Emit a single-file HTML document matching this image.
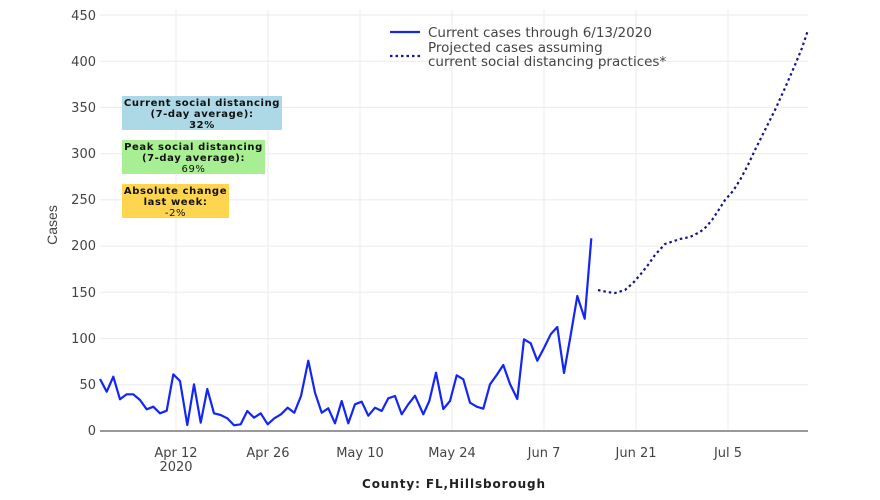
<!DOCTYPE html>
<html><head><meta charset="utf-8"><style>
body{margin:0;background:#fff;}
svg text{font-family:"DejaVu Sans",sans-serif;}
</style></head><body>
<svg width="880" height="495" xmlns="http://www.w3.org/2000/svg">
<g stroke="#ebebeb" stroke-width="1">
<line x1="100" x2="808" y1="384.8" y2="384.8"/>
<line x1="100" x2="808" y1="338.6" y2="338.6"/>
<line x1="100" x2="808" y1="292.3" y2="292.3"/>
<line x1="100" x2="808" y1="246.1" y2="246.1"/>
<line x1="100" x2="808" y1="199.9" y2="199.9"/>
<line x1="100" x2="808" y1="153.7" y2="153.7"/>
<line x1="100" x2="808" y1="107.4" y2="107.4"/>
<line x1="100" x2="808" y1="61.2" y2="61.2"/>
<line x1="100" x2="808" y1="15" y2="15"/>
<line x1="176" x2="176" y1="10" y2="431"/>
<line x1="268" x2="268" y1="10" y2="431"/>
<line x1="360" x2="360" y1="10" y2="431"/>
<line x1="452" x2="452" y1="10" y2="431"/>
<line x1="544" x2="544" y1="10" y2="431"/>
<line x1="636" x2="636" y1="10" y2="431"/>
<line x1="728" x2="728" y1="10" y2="431"/>
</g>
<line x1="100" x2="808" y1="431" y2="431" stroke="#999" stroke-width="2"/>
<g font-size="13" fill="#444" text-anchor="end">
<text x="96" y="435">0</text><text x="96" y="389">50</text><text x="96" y="343">100</text>
<text x="96" y="297">150</text><text x="96" y="250">200</text><text x="96" y="204">250</text>
<text x="96" y="158">300</text><text x="96" y="112">350</text><text x="96" y="66">400</text><text x="96" y="20">450</text>
</g>
<g font-size="13" fill="#444" text-anchor="middle">
<text x="176" y="457">Apr 12</text><text x="176" y="471">2020</text>
<text x="268" y="457">Apr 26</text><text x="360" y="457">May 10</text><text x="452" y="457">May 24</text>
<text x="544" y="457">Jun 7</text><text x="636" y="457">Jun 21</text><text x="728" y="457">Jul 5</text>
</g>
<text x="57" y="225" font-size="14" fill="#444" text-anchor="middle" transform="rotate(-90 57 225)" style="font-family:'Liberation Sans',sans-serif">Cases</text>
<text x="454" y="488" font-size="12" font-weight="bold" fill="#222" text-anchor="middle" letter-spacing="0.9">County: FL,Hillsborough</text>
<polyline fill="none" stroke="#1426f5" stroke-width="2.2" stroke-linejoin="round" points="100,379 106.7,391.7 113.3,376.7 120,399.3 126.7,394.3 133.3,394.3 140,400 146.7,409.3 153.3,406.7 160,413.3 166.7,410.7 173.3,374.3 180,381 187.3,425 194,384.3 200.7,422.7 207.3,389 214,413.3 220.7,415 227.3,418.3 234,425.3 240.7,424.3 247.3,411 254,417.7 260.7,413.3 267.7,424.3 274.3,418.3 281,414.3 287.7,407.7 294.3,412.7 301,396 308.3,360.7 315,392.7 321.7,412.7 328.3,408.3 335,423.3 341.7,401 348.3,423.3 355,404.3 361.7,401.7 368.3,415.7 375,407.7 381.7,411 388.3,398.3 395,396 401.7,414.3 408.3,404.3 415,395.7 423.3,414.3 429.3,401 436,372.7 443.3,409 450,401 456.7,375.3 463.3,379.3 470,402.7 476.7,406.7 483.3,408.7 490,384.3 496.7,375 503.3,365 510,384 517.3,399 524,339.3 530.7,343.3 537.3,360.7 544,348 550.7,334.3 557.3,327 564,373 570.7,335 577.3,296 584.7,318.7 591.3,238.3"/>
<polyline fill="none" stroke="#14148c" stroke-width="2.2" stroke-dasharray="2.5,3" points="598,290 607,292 615,293 625,290 633,283 640,275 648,265 655,255 665,244 680,239 690,237 700,232 706,227 712,220 718,211 725,200 733,191 740,180 748,165 755,150 765,130 775,110 785,88 795,65 802,48 808,30"/>
<line x1="390" x2="420" y1="32" y2="32" stroke="#1426f5" stroke-width="2.2"/>
<line x1="390" x2="420" y1="56" y2="56" stroke="#14148c" stroke-width="2.2" stroke-dasharray="2.5,3"/>
<g font-size="13.5" fill="#444">
<text x="428" y="37">Current cases through 6/13/2020</text>
<text x="428" y="52">Projected cases assuming</text>
<text x="428" y="66">current social distancing practices*</text>
</g>
<rect x="122" y="96" width="160" height="34" fill="#add8e6"/>
<rect x="122" y="140" width="143" height="34" fill="#a8ee92"/>
<rect x="122" y="184" width="107" height="34" fill="#ffd54f"/>
<g font-size="10" fill="#111" text-anchor="middle" letter-spacing="0.6">
<g font-weight="bold"><text x="202" y="106">Current social distancing</text><text x="202" y="117">(7-day average):</text><text x="202" y="128">32%</text>
<text x="193.5" y="150">Peak social distancing</text><text x="193.5" y="161">(7-day average):</text>
<text x="175.5" y="194">Absolute change</text><text x="175.5" y="205">last week:</text></g>
<text x="193.5" y="172">69%</text><text x="175.5" y="216">-2%</text>
</g>
</svg>
</body></html>
